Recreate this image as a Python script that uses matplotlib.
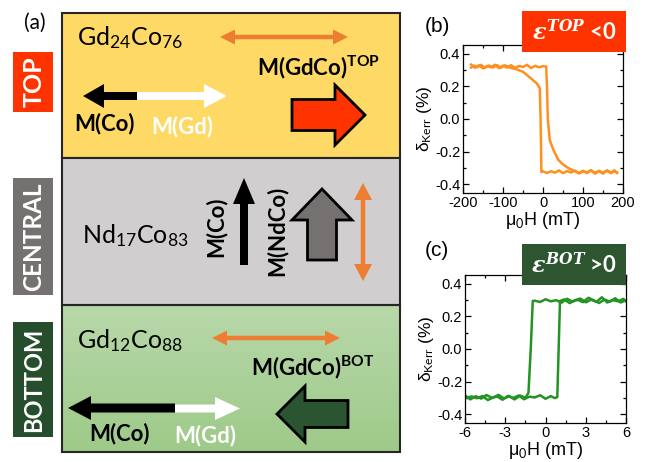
import numpy as np
import matplotlib.pyplot as plt
from matplotlib.patches import Rectangle, FancyArrow
from matplotlib.ticker import AutoMinorLocator

plt.rcParams['font.family'] = 'Liberation Sans'
plt.rcParams['mathtext.fontset'] = 'custom'
plt.rcParams['mathtext.rm'] = 'Lato'
plt.rcParams['mathtext.bf'] = 'Lato:bold'
plt.rcParams['mathtext.it'] = 'DejaVu Serif:italic:bold'

# ---- layer stack (schematic) ----
layer_names = ['TOP', 'CENTRAL', 'BOTTOM']
layer_alloys = [r'Gd$_{24}$Co$_{76}$', r'Nd$_{17}$Co$_{83}$', r'Gd$_{12}$Co$_{88}$']

# ---- Kerr loops: (b) top layer, field in mT ----
b_up_H = [-180, -170, -160, -150, -140, -130, -120, -110, -100, -90, -80, -70,
          -60, -50, -40, -30, -20, -10, 0, 8, 10, 12, 17, 26, 38, 48, 59, 70,
          80, 90, 100, 110, 120, 130, 140, 150, 160, 170, 178, 185]
b_up_d = [0.335, 0.315, 0.330, 0.311, 0.326, 0.318, 0.334, 0.312, 0.328, 0.316,
          0.331, 0.314, 0.326, 0.320, 0.333, 0.313, 0.327, 0.318, 0.325, 0.322,
          0.20, 0.00, -0.13, -0.19, -0.25, -0.275, -0.295, -0.31,
          -0.322, -0.334, -0.318, -0.333, -0.315, -0.331, -0.319, -0.336,
          -0.316, -0.330, -0.321, -0.328]
b_dn_H = [185, 178, 170, 160, 150, 140, 130, 120, 110, 100, 90, 80, 70, 60, 50,
          40, 30, 20, 10, 0, -4, -6, -8, -16, -28, -40, -50, -65, -82, -95,
          -105, -115, -125, -135, -145, -155, -165, -172, -180]
b_dn_d = [-0.332, -0.315, -0.333, -0.318, -0.330, -0.320, -0.336, -0.315,
          -0.328, -0.322, -0.334, -0.317, -0.329, -0.320, -0.333, -0.316,
          -0.330, -0.321, -0.332, -0.322, -0.325, 0.00, 0.19, 0.22, 0.245,
          0.27, 0.29, 0.305, 0.315, 0.330, 0.316, 0.331, 0.317, 0.329, 0.314,
          0.333, 0.318, 0.328, 0.316]

# ---- Kerr loops: (c) bottom layer ----
c_up_H = [-6.0, -5.6, -5.2, -4.8, -4.4, -4.0, -3.6, -3.2, -2.8, -2.4, -2.0,
          -1.6, -1.2, -0.8, -0.4, 0.0, 0.4, 0.7, 0.88, 1.08, 1.4, 1.8, 2.2,
          2.6, 3.0, 3.4, 3.8, 4.2, 4.6, 5.0, 5.4, 5.8, 6.0]
c_up_d = [-0.285, -0.310, -0.290, -0.305, -0.283, -0.300, -0.292, -0.312,
          -0.288, -0.301, -0.286, -0.309, -0.293, -0.298, -0.284, -0.306,
          -0.290, -0.302, -0.295, 0.295, 0.305, 0.282, 0.300, 0.310, 0.287,
          0.303, 0.290, 0.318, 0.286, 0.301, 0.293, 0.308, 0.292]
c_dn_H = [6.0, 5.6, 5.2, 4.8, 4.4, 4.0, 3.6, 3.2, 2.8, 2.4, 2.0, 1.6, 1.2,
          0.8, 0.4, 0.0, -0.4, -0.8, -0.95, -1.1, -1.27, -1.5, -1.9, -2.3,
          -2.7, -3.1, -3.5, -3.9, -4.3, -4.7, -5.1, -5.5, -6.0]
c_dn_d = [0.300, 0.286, 0.312, 0.291, 0.304, 0.283, 0.299, 0.315, 0.288,
          0.302, 0.292, 0.309, 0.285, 0.300, 0.293, 0.306, 0.289, 0.297,
          0.295, 0.00, -0.27, -0.300, -0.286, -0.310, -0.291, -0.304,
          -0.282, -0.298, -0.314, -0.289, -0.303, -0.292, -0.300]

fig = plt.figure(figsize=(6.46, 4.62), dpi=100)

# full-figure axes in pixel units for the drawing
ax0 = fig.add_axes([0, 0, 1, 1])
ax0.set_xlim(0, 646)
ax0.set_ylim(462, 0)
ax0.axis('off')

edge = '#262626'
ax0.add_patch(Rectangle((62, 13), 338, 145, fc='#FFD966', ec=edge, lw=1.5, zorder=1))
ax0.add_patch(Rectangle((62, 158), 338, 147, fc='#D0CECE', ec=edge, lw=1.5, zorder=1))
# green layer has a soft vertical gradient
grad = np.linspace(0, 1, 100)[:, None, None]
top_c = np.array([184, 216, 170]) / 255
bot_c = np.array([158, 202, 137]) / 255
ax0.imshow(top_c + grad * (bot_c - top_c), extent=(62, 400, 452, 305),
           aspect='auto', zorder=0.5)
ax0.add_patch(Rectangle((62, 305), 338, 147, fc='none', ec=edge, lw=1.5, zorder=1))
ax0.set_xlim(0, 646)
ax0.set_ylim(462, 0)

# side tags
tag_cols = ['#FF3300', '#767171', '#274E2C']
tag_y = [(52, 112), (178, 295), (322, 437)]
tag_fs = [18, 17.5, 17]
for name, col, (y0, y1), fs in zip(layer_names, tag_cols, tag_y, tag_fs):
    ax0.add_patch(Rectangle((13, y0), 40, y1 - y0, fc=col, ec='none'))
    ax0.text(34, (y0 + y1) / 2, name, rotation=90, color='white', family='Lato',
             fontweight='bold', fontsize=fs, ha='center', va='center')

ax0.text(35, 23, '(a)', family='Lato', fontsize=15, ha='center', va='center')

# alloy names
for s, (x, y) in zip(layer_alloys, [(77, 45), (82, 243), (77, 348)]):
    ax0.text(x, y, s, family='Lato', fontsize=18, va='baseline')

orange = '#ED7D31'


def double_arrow(xc, yc, dx, dy, hw, hl):
    for sgn in (1, -1):
        ax0.add_patch(FancyArrow(xc, yc, sgn * dx, sgn * dy, width=4.5,
                                 head_width=hw, head_length=hl,
                                 length_includes_head=True, fc=orange, ec='none'))


double_arrow(284, 37, 64, 0, 15, 15)
double_arrow(276, 338, 64, 0, 15, 15)
double_arrow(363, 232, 0, 49, 18, 17)

# net moments
ax0.text(257, 75, r'M(GdCo)$^{\mathbf{TOP}}$', family='Lato', fontweight='bold',
         fontsize=16, va='baseline')
ax0.text(251, 375, r'M(GdCo)$^{\mathbf{BOT}}$', family='Lato', fontweight='bold',
         fontsize=16, va='baseline')

# sublattice arrows, top layer
ax0.add_patch(FancyArrow(137, 96, -54, 0, width=8, head_width=24, head_length=21,
                         length_includes_head=True, fc='black', ec='none', zorder=3))
ax0.add_patch(FancyArrow(137, 96, 90, 0, width=8, head_width=24, head_length=23,
                         length_includes_head=True, fc='white', ec='none', zorder=3))
ax0.text(74, 130, 'M(Co)', family='Lato', fontweight='bold', fontsize=16, va='baseline')
ax0.text(151, 133, 'M(Gd)', family='Lato', fontweight='bold', fontsize=16,
         va='baseline', color='white')
ax0.add_patch(FancyArrow(292, 115, 73, 0, width=31, head_width=60, head_length=30,
                         length_includes_head=True, fc='#FF3300', ec='black', lw=2,
                         joinstyle='miter', zorder=3))

# central layer
ax0.text(216, 227, 'M(Co)', rotation=90, family='Lato', fontweight='bold',
         fontsize=16, ha='center', va='center')
ax0.add_patch(FancyArrow(244, 265, 0, -87, width=8, head_width=22, head_length=26,
                         length_includes_head=True, fc='black', ec='none', zorder=3))
ax0.text(277, 231, 'M(NdCo)', rotation=90, family='Lato', fontweight='bold',
         fontsize=16, ha='center', va='center')
ax0.add_patch(FancyArrow(322, 260, 0, -71, width=29, head_width=60, head_length=31,
                         length_includes_head=True, fc='#767171', ec='black', lw=2,
                         joinstyle='miter', zorder=3))

# bottom layer
ax0.add_patch(FancyArrow(175, 408, -107, 0, width=9, head_width=24, head_length=23,
                         length_includes_head=True, fc='black', ec='none', zorder=3))
ax0.add_patch(FancyArrow(175, 408.5, 65, 0, width=8, head_width=23, head_length=25,
                         length_includes_head=True, fc='white', ec='none', zorder=3))
ax0.text(89, 440, 'M(Co)', family='Lato', fontweight='bold', fontsize=16, va='baseline')
ax0.text(174, 442, 'M(Gd)', family='Lato', fontweight='bold', fontsize=16,
         va='baseline', color='white')
ax0.add_patch(FancyArrow(348, 414, -71, 0, width=27, head_width=56, head_length=28,
                         length_includes_head=True, fc='#2B5430', ec='black', lw=2,
                         joinstyle='miter', zorder=3))


def style_loop(ax, xt):
    ax.set_xticks(xt)
    ax.set_yticks([-0.4, -0.2, 0.0, 0.2, 0.4])
    ax.set_yticklabels(['-0.4', '-0.2', '0.0', '0.2', '0.4'])
    ax.set_xticklabels([str(v) for v in xt])
    ax.set_ylim(-0.455, 0.455)
    ax.xaxis.set_minor_locator(AutoMinorLocator(2))
    ax.yaxis.set_minor_locator(AutoMinorLocator(2))
    ax.tick_params(which='both', direction='in', top=True, right=True,
                   labelsize=10.5, pad=2, width=0.9)
    ax.tick_params(which='major', length=4)
    ax.tick_params(which='minor', length=2.5)
    for sp in ax.spines.values():
        sp.set_linewidth(0.9)
    ax.set_ylabel(r'δ$_{\mathrm{Kerr}}$ (%)', fontsize=12.5, labelpad=1)


axb = fig.add_axes([463 / 646, 1 - 193 / 462, 160 / 646, 148 / 462])
axb.plot(b_up_H, b_up_d, color='#FF9020', lw=1.8)
axb.plot(b_dn_H, b_dn_d, color='#FF9020', lw=1.8)
axb.set_xlim(-200, 200)
style_loop(axb, [-200, -100, 0, 100, 200])
axb.set_xlabel(r'μ$_0$H (mT)', fontsize=13, labelpad=0)

axc = fig.add_axes([465 / 646, 1 - 423 / 462, 161 / 646, 148 / 462])
axc.plot(c_up_H, c_up_d, color='#239323', lw=1.8)
axc.plot(c_dn_H, c_dn_d, color='#239323', lw=1.8)
axc.set_xlim(-6, 6)
style_loop(axc, [-6, -3, 0, 3, 6])
axc.set_xlabel(r'μ$_0$H (mT)', fontsize=13, labelpad=0)

# panel letters and strain tags on top of the loops
ax1 = fig.add_axes([0, 0, 1, 1], zorder=5)
ax1.set_xlim(0, 646)
ax1.set_ylim(462, 0)
ax1.axis('off')
ax1.text(437, 27, '(b)', fontsize=15, ha='center', va='center')
ax1.text(437, 251, '(c)', fontsize=15, ha='center', va='center')
ax1.add_patch(Rectangle((522, 11), 104, 41, fc='#FF3300', ec='none'))
ax1.text(574, 32, r'$\varepsilon^{TOP}$ <0', color='white', family='Lato',
         fontweight='bold', fontsize=16, ha='center', va='center')
ax1.add_patch(Rectangle((522, 244), 104, 41, fc='#2C5530', ec='none'))
ax1.text(574, 265, r'$\varepsilon^{BOT}$ >0', color='white', family='Lato',
         fontweight='bold', fontsize=16, ha='center', va='center')

fig.savefig('out.png', dpi=100)
